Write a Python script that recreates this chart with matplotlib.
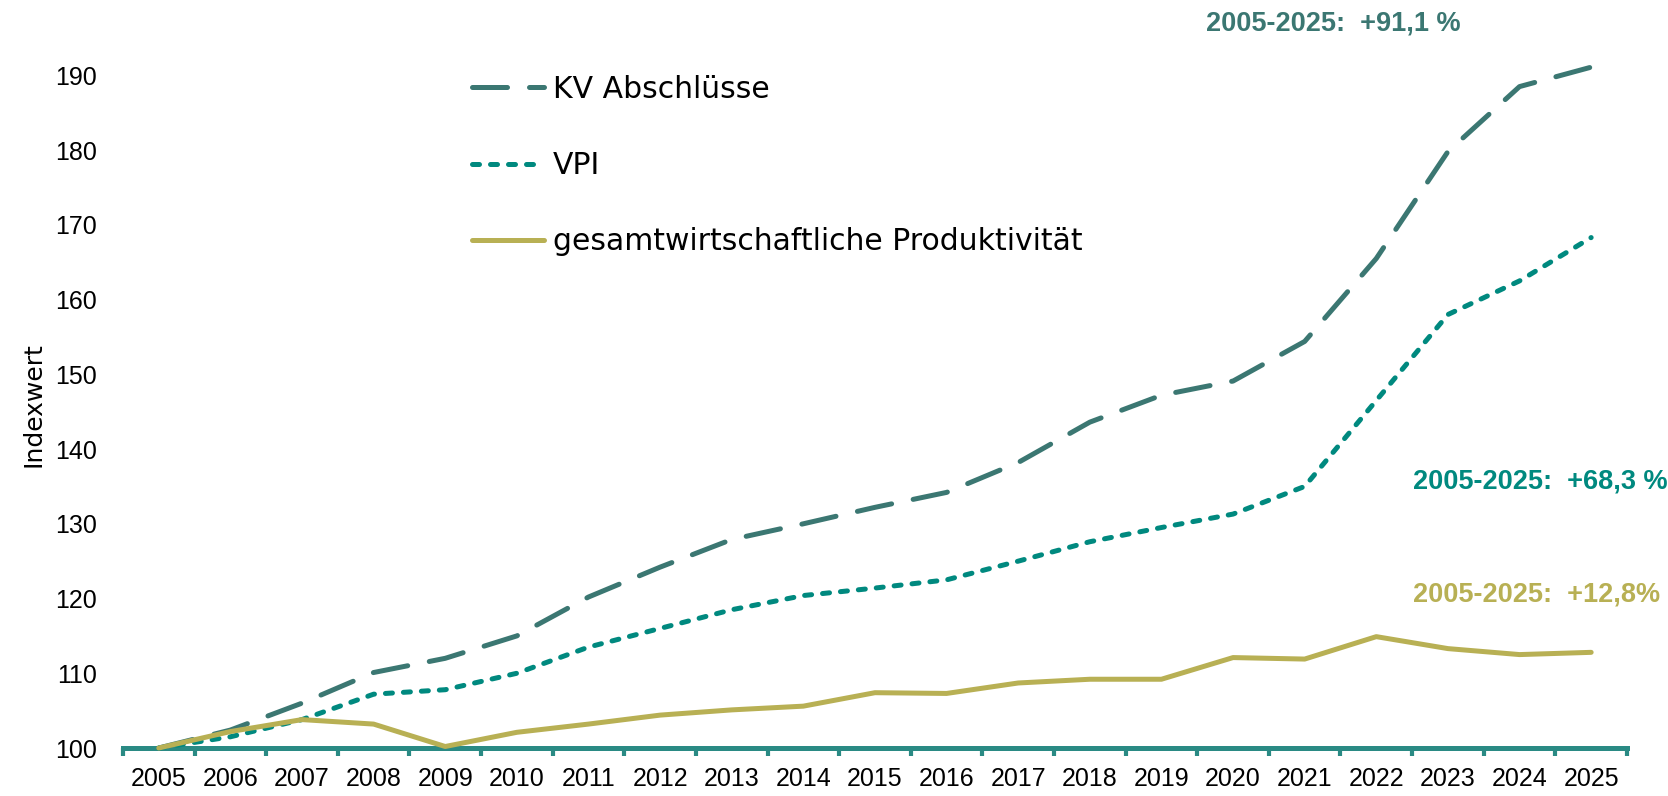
import matplotlib.pyplot as plt

# Index 2005 = 100
years = [str(y) for y in range(2005, 2026)]
kv_abschluesse = [100, 102.4, 106.0, 110.1, 112.0, 115.0, 120.2, 124.2, 127.9, 130.0, 132.2,
                  134.2, 138.2, 143.6, 147.2, 149.1, 154.4, 165.5, 179.8, 188.5, 191.1]
vpi = [100, 101.5, 103.8, 107.2, 107.8, 110.0, 113.5, 116.0, 118.5, 120.4, 121.4,
       122.5, 125.0, 127.6, 129.5, 131.3, 135.0, 146.5, 158.0, 162.5, 168.3]
produktivitaet = [100, 102.2, 103.8, 103.2, 100.2, 102.1, 103.2, 104.4, 105.1, 105.6, 107.4,
                  107.3, 108.7, 109.2, 109.2, 112.1, 111.9, 114.9, 113.3, 112.5, 112.8]
labels = ["KV Abschlüsse", "VPI", "gesamtwirtschaftliche Produktivität"]
notes = ["2005-2025:  +91,1 %", "2005-2025:  +68,3 %", "2005-2025:  +12,8%"]

c_kv = "#3b7772"
c_vpi = "#00897f"
c_prod = "#b8b054"
c_axis = "#2a8a84"

plt.rcParams['font.family'] = ['Liberation Sans', 'DejaVu Sans']

fig = plt.figure(figsize=(16.68, 7.96), dpi=100)
ax = fig.add_axes([0.0737, 0.0603, 0.9017, 0.845])

x = list(range(len(years)))
ax.plot(x, kv_abschluesse, color=c_kv, lw=3.6, dashes=(7, 4.4),
        dash_capstyle="round", label=labels[0], zorder=3, clip_on=False)
ax.plot(x, vpi, color=c_vpi, lw=3.6, dashes=(1.4, 2.2),
        dash_capstyle="round", label=labels[1], zorder=3, clip_on=False)
ax.plot(x, produktivitaet, color=c_prod, lw=3.6, solid_capstyle="round",
        label=labels[2], zorder=4, clip_on=False)

ax.set_xlim(-0.5, len(years) - 0.5)
ax.set_ylim(100, 190)
ax.set_yticks(range(100, 191, 10))
ax.set_xticks(x)
ax.set_xticklabels(years)
ax.set_xticks([i - 0.5 for i in range(len(years) + 1)], minor=True)
ax.tick_params(axis="x", which="major", length=0, pad=14, labelsize=18)
ax.tick_params(axis="x", which="minor", length=6, width=3, color=c_axis, direction="out")
ax.tick_params(axis="y", length=0, pad=19, labelsize=18)

for side in ["top", "right", "left"]:
    ax.spines[side].set_visible(False)
ax.spines["bottom"].set_color(c_axis)
ax.spines["bottom"].set_linewidth(3.6)
ax.spines["bottom"].set_zorder(2)

ax.set_ylabel("Indexwert", fontsize=18, family="DejaVu Sans")
ax.yaxis.set_label_coords(-0.0515, 0.51)

ax.legend(loc="upper left", bbox_to_anchor=(0.283, 0.906), bbox_transform=fig.transFigure,
          frameon=False, prop={"family": "DejaVu Sans", "size": 21.5},
          handlelength=2.4, handletextpad=0.3, labelspacing=1.58,
          borderpad=0, borderaxespad=0)

ax.text(16.4, 196.9, notes[0], color=c_kv, fontsize=19.5, fontweight="bold",
        ha="center", va="center", clip_on=False)
ax.text(17.51, 135.7, notes[1], color=c_vpi, fontsize=19.5, fontweight="bold",
        ha="left", va="center", clip_on=False)
ax.text(17.51, 120.6, notes[2], color=c_prod, fontsize=19.5, fontweight="bold",
        ha="left", va="center", clip_on=False)

fig.savefig("out.png", dpi=100)
